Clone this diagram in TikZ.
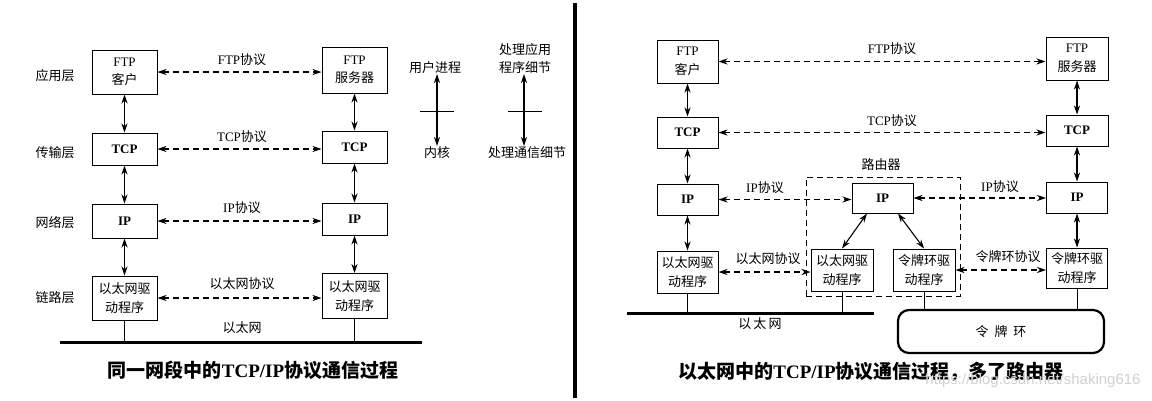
\documentclass[tikz,border=0pt]{standalone}
\usepackage{fontspec}
\setmainfont{Liberation Serif}
\newfontfamily\cjk{Noto Sans CJK SC}
\newfontfamily\wmfont{Liberation Sans}
\usetikzlibrary{arrows.meta}
\newcommand\zh[1]{{\cjk #1}}
\begin{document}
\begin{tikzpicture}[x=1pt,y=-1pt,
  box/.style={draw, line width=1pt, inner sep=0pt, align=center, fill=white,
    font=\fontsize{13}{18.5}\selectfont},
  lbl/.style={inner sep=0pt, align=center, font=\fontsize{13}{18.5}\selectfont},
  tip/.style={{Stealth[length=9pt,width=6pt]}-{Stealth[length=9pt,width=6pt]}},
  dasharrow/.style={tip, line width=1.1pt, dash pattern=on 6pt off 4pt},
  solarrow/.style={tip, line width=1.1pt},
  wire/.style={line width=1pt},
  bus/.style={line width=3pt},
  caption/.style={inner sep=0pt, font=\fontsize{19}{22}\selectfont\bfseries}
]
\useasboundingbox (0,0) rectangle (1152,400);
\fill[white] (0,0) rectangle (1152,400);

% ---------------- left diagram ----------------
\node[lbl] (L1) at (55,76) {\zh{应用层}};
\node[lbl] (L2) at (55,153) {\zh{传输层}};
\node[lbl] (L3) at (55,223) {\zh{网络层}};
\node[lbl] (L4) at (55,298) {\zh{链路层}};

\node[box, minimum width=65pt, minimum height=44pt] (lftp) at (124.5,72) {FTP\\\zh{客户}};
\node[box, minimum width=65pt, minimum height=46pt] (rftp) at (354.5,70) {FTP\\\zh{服务器}};
\node[box, minimum width=65pt, minimum height=32pt] (ltcp) at (124.5,149) {\bfseries TCP};
\node[box, minimum width=65pt, minimum height=32pt] (rtcp) at (354.5,147) {\bfseries TCP};
\node[box, minimum width=65pt, minimum height=34pt] (lip) at (124.5,221) {\bfseries IP};
\node[box, minimum width=65pt, minimum height=32pt] (rip) at (354.5,219) {\bfseries IP};
\node[box, minimum width=65pt, minimum height=44pt] (leth) at (124.5,298) {\zh{以太网驱}\\\zh{动程序}};
\node[box, minimum width=65pt, minimum height=45pt] (reth) at (354.5,296) {\zh{以太网驱}\\\zh{动程序}};

\draw[dasharrow] (lftp.east) -- (lftp.east -| rftp.west);
\draw[dasharrow] (ltcp.east) -- (ltcp.east -| rtcp.west);
\draw[dasharrow] (lip.east) -- (lip.east -| rip.west);
\draw[dasharrow] (leth.east) -- (leth.east -| reth.west);

\node[lbl] (p1) at (242,60) {FTP\zh{协议}};
\node[lbl] (p2) at (242,137) {TCP\zh{协议}};
\node[lbl] (p3) at (242,208) {IP\zh{协议}};
\node[lbl] (p4) at (242,284) {\zh{以太网协议}};
\node[lbl] (p5) at (242,328) {\zh{以太网}};

\draw[solarrow] (lftp) -- (ltcp);
\draw[solarrow] (ltcp) -- (lip);
\draw[solarrow] (lip) -- (leth);
\draw[solarrow] (rftp) -- (rtcp);
\draw[solarrow] (rtcp) -- (rip);
\draw[solarrow] (rip) -- (reth);

\coordinate (e1a) at (60,342);
\coordinate (e1b) at (422,342);
\draw[bus] (e1a) -- (e1b);
\draw[wire] (leth.south) -- (leth.south |- e1a);
\draw[wire] (reth.south) -- (reth.south |- e1a);

% legend
\node[lbl, anchor=south] (u1) at (435,74) {\zh{用户进程}};
\node[lbl, anchor=north] (k1) at (437,146) {\zh{内核}};
\draw[solarrow] (k1.north |- u1.south) -- (k1.north);
\coordinate (b1a) at (420,111);
\coordinate (b1b) at (454,111);
\draw[wire] (b1a) -- (b1b);

\node[lbl, anchor=south] (u2) at (525,74) {\zh{处理应用}\\\zh{程序细节}};
\node[lbl, anchor=north] (k2) at (527,146) {\zh{处理通信细节}};
\draw[solarrow] (524,0 |- u2.south) -- (524,0 |- k2.north);
\coordinate (b2a) at (508,111);
\coordinate (b2b) at (542,111);
\draw[wire] (b2a) -- (b2b);

\node[caption] (cap1) at (253,370) {\zh{同一网段中的}TCP/IP\zh{协议通信过程}};

% separator
\draw[line width=4pt] (575,3) -- (575,398);

% ---------------- right diagram ----------------
\node[box, dash pattern=on 6pt off 4pt, fill=none, minimum width=154pt, minimum height=119pt] (rbox) at (883,236.5) {};
\node[lbl] (rlab) at (881,165) {\zh{路由器}};

\node[box, minimum width=61pt, minimum height=43pt] (cftp) at (687.5,61.5) {FTP\\\zh{客户}};
\node[box, minimum width=62pt, minimum height=43pt] (sftp) at (1077,58.5) {FTP\\\zh{服务器}};
\node[box, minimum width=61pt, minimum height=31pt] (ctcp) at (687.5,132.5) {\bfseries TCP};
\node[box, minimum width=62pt, minimum height=31pt] (stcp) at (1077,130.5) {\bfseries TCP};
\node[box, minimum width=61pt, minimum height=31pt] (cip) at (687.5,199.5) {\bfseries IP};
\node[box, minimum width=61pt, minimum height=31pt] (sip) at (1077,197.5) {\bfseries IP};
\node[box, minimum width=61pt, minimum height=42pt] (ceth) at (687.5,272) {\zh{以太网驱}\\\zh{动程序}};
\node[box, minimum width=61pt, minimum height=30pt] (gip) at (882.5,198) {\bfseries IP};
\node[box, minimum width=62pt, minimum height=42pt] (geth) at (842,270) {\zh{以太网驱}\\\zh{动程序}};
\node[box, minimum width=62pt, minimum height=42pt] (gtr) at (924,270) {\zh{令牌环驱}\\\zh{动程序}};
\node[box, minimum width=61pt, minimum height=40pt] (str) at (1077,268) {\zh{令牌环驱}\\\zh{动程序}};

\draw[dasharrow] (cftp.east) -- (cftp.east -| sftp.west);
\draw[dasharrow] (ctcp.east) -- (ctcp.east -| stcp.west);
\draw[dasharrow] (cip.east) -- (cip.east -| gip.west);
\draw[dasharrow] (gip.east) -- (gip.east -| sip.west);
\draw[dasharrow] (ceth.east) -- (ceth.east -| geth.west);
\draw[dasharrow] (gtr.east) -- (gtr.east -| str.west);

\node[lbl] (q1) at (892,49) {FTP\zh{协议}};
\node[lbl] (q2) at (892,121) {TCP\zh{协议}};
\node[lbl] (q3) at (765,188) {IP\zh{协议}};
\node[lbl] (q4) at (1000,187) {IP\zh{协议}};
\node[lbl] (q5) at (768,259) {\zh{以太网协议}};
\node[lbl] (q6) at (1008,257) {\zh{令牌环协议}};

\draw[solarrow] (cftp) -- (ctcp);
\draw[solarrow] (ctcp) -- (cip);
\draw[solarrow] (cip) -- (ceth);
\draw[solarrow] (sftp) -- (stcp);
\draw[solarrow] (stcp) -- (sip);
\draw[solarrow] (sip) -- (str);
\draw[solarrow] (gip.225) -- (geth.north);
\draw[solarrow] (gip.315) -- (gtr.north);

\coordinate (e2a) at (627,313);
\coordinate (e2b) at (874,313);
\draw[bus] (e2a) -- (e2b);
\draw[wire] (ceth.south) -- (ceth.south |- e2a);
\draw[wire] (geth.south) -- (geth.south |- e2a);
\node[lbl] (enet) at (760,324) {\zh{以\,太\,网}};

\node[draw, line width=2.2pt, rounded corners=11pt, minimum width=206pt, minimum height=43pt,
  inner sep=0pt, font=\fontsize{13}{15}\selectfont] (ring) at (1001,331.5) {\zh{令\ \ 牌\ \ 环}};
\draw[wire] (gtr.south) -- (gtr.south |- ring.north);
\draw[wire] (str.south) -- (str.south |- ring.north);

\node[caption] (cap2) at (871,372) {\zh{以太网中的}TCP/IP\zh{协议通信过程，多了路由器}};
\node[inner sep=0pt, text=black!18, font=\wmfont\fontsize{15}{17}\selectfont] (wm) at (1033,381) {https://blog.csdn.net/shaking616};
\end{tikzpicture}
\end{document}
